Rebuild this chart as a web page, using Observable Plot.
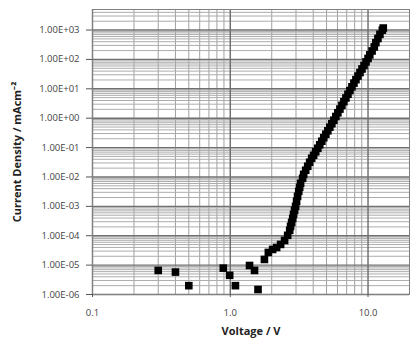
<!DOCTYPE html>
<html>
<head>
<meta charset="utf-8">
<script src="https://cdn.jsdelivr.net/npm/d3@7"></script>
<script src="https://cdn.jsdelivr.net/npm/@observablehq/plot@0.6"></script>
<style>
  html, body { margin: 0; padding: 0; background: #fff; }
  svg { display: block; }
</style>
</head>
<body>
<div id="chart"></div>
<script>
// Voltage (V) and current density (mA cm^-2)
const voltage = [
  0.30, 0.40, 0.50, 0.89, 0.99, 1.09, 1.38, 1.50, 1.59,
  1.77, 1.89, 2.03, 2.17, 2.32, 2.48, 2.61, 2.70, 2.74, 2.79,
  2.84, 2.88, 2.93, 2.98, 3.03, 3.08, 3.14, 3.19, 3.24, 3.35,
  3.41, 3.53, 3.65, 3.77, 3.90, 4.03, 4.17, 4.32, 4.46, 4.62,
  4.77, 4.94, 5.11, 5.28, 5.46, 5.65, 5.84, 6.04, 6.25, 6.46,
  6.68, 6.91, 7.15, 7.39, 7.64, 7.90, 8.17, 8.45, 8.74, 9.04,
  9.35, 9.67, 10.0, 10.3, 10.7, 11.1, 11.4, 11.8, 12.2, 12.7, 12.9
];
const currentDensity = [
  6.6e-6, 5.8e-6, 2.0e-6, 7.9e-6, 4.5e-6, 2.0e-6, 9.7e-6, 6.6e-6, 1.48e-6,
  1.56e-5, 2.70e-5, 3.41e-5, 3.99e-5, 5.06e-5, 6.92e-5, 1.03e-4, 1.52e-4, 2.08e-4, 2.84e-4,
  3.89e-4, 5.32e-4, 7.29e-4, 9.98e-4, 1.48e-3, 2.19e-3, 3.24e-3, 4.44e-3, 6.08e-3, 9.0e-3,
  1.23e-2, 1.69e-2, 2.31e-2, 3.16e-2, 4.33e-2, 5.47e-2, 7.20e-2, 9.48e-2, 0.125, 0.164,
  0.216, 0.284, 0.374, 0.493, 0.649, 0.854, 1.14, 1.53, 2.04, 2.73,
  3.65, 4.88, 6.53, 8.73, 11.7, 15.6, 20.5, 27.2, 35.8, 47.2,
  62.1, 82.4, 108, 143, 194, 267, 372, 517, 713, 993, 1170
];
const xTicks = [0.1, 1, 10];
const xTickLabels = ["0.1", "1.0", "10.0"];
const yTicks = [1e-6, 1e-5, 1e-4, 1e-3, 1e-2, 1e-1, 1e0, 1e1, 1e2, 1e3];
const yTickLabels = ["1.00E-06", "1.00E-05", "1.00E-04", "1.00E-03", "1.00E-02",
                     "1.00E-01", "1.00E+00", "1.00E+01", "1.00E+02", "1.00E+03"];
const xLabel = "Voltage / V";
const yLabel = "Current Density / mAcm\u207B\u00B2";

const data = voltage.map((v, i) => ({v, j: currentDensity[i]}));

// minor gridline positions (2..9 within each decade)
const xMinor = [];
for (const d of [0.1, 1, 10]) for (let k = 2; k <= 9; k++) if (d * k <= 20) xMinor.push(d * k);
const yMinor = [];
for (let e = -6; e <= 3; e++) for (let k = 2; k <= 9; k++) if (k * 10 ** e <= 5000) yMinor.push(k * 10 ** e);

const font = "'Open Sans', 'Liberation Sans', sans-serif";

const chart = Plot.plot({
  width: 411,
  height: 344,
  marginLeft: 92,
  marginRight: 2,
  marginTop: 9,
  marginBottom: 50,
  style: {fontFamily: font, background: "#fff"},
  x: {type: "log", domain: [0.1, 20]},
  y: {type: "log", domain: [1e-6, 5000]},
  marks: [
    Plot.ruleX(xMinor, {stroke: "#a0a0a0", strokeWidth: 1}),
    Plot.ruleY(yMinor, {stroke: "#acacac", strokeWidth: 1}),
    Plot.ruleX(xTicks, {stroke: "#6a6a6a", strokeWidth: 1.4}),
    Plot.ruleY(yTicks, {stroke: "#707070", strokeWidth: 1.4}),
    Plot.frame({stroke: "#808080", strokeWidth: 1}),
    Plot.axisX({
      ticks: xTicks,
      tickFormat: (d) => xTickLabels[xTicks.indexOf(d)],
      tickSize: 3,
      tickPadding: 12,
      fontSize: 9.5,
      fill: "#444",
      stroke: "#555",
      label: null
    }),
    Plot.axisY({
      ticks: yTicks,
      tickFormat: (d) => yTickLabels[yTicks.findIndex((t) => Math.abs(Math.log10(t) - Math.log10(d)) < 1e-9)],
      tickSize: 6,
      tickPadding: 7,
      fontSize: 9.5,
      fill: "#444",
      stroke: "#555",
      label: null
    }),
    Plot.dot(data, {x: "v", y: "j", symbol: "square", r: 4.3, fill: "#000", stroke: "none"}),
    Plot.text([xLabel], {frameAnchor: "bottom", dy: 40, fontWeight: "bold", fontSize: 11, fill: "#222"}),
    Plot.text([yLabel], {frameAnchor: "left", textAnchor: "middle", dx: -75, dy: 0, rotate: -90, fontWeight: "bold", fontSize: 11, fill: "#222"})
  ]
});
document.getElementById("chart").append(chart);
</script>
</body>
</html>
